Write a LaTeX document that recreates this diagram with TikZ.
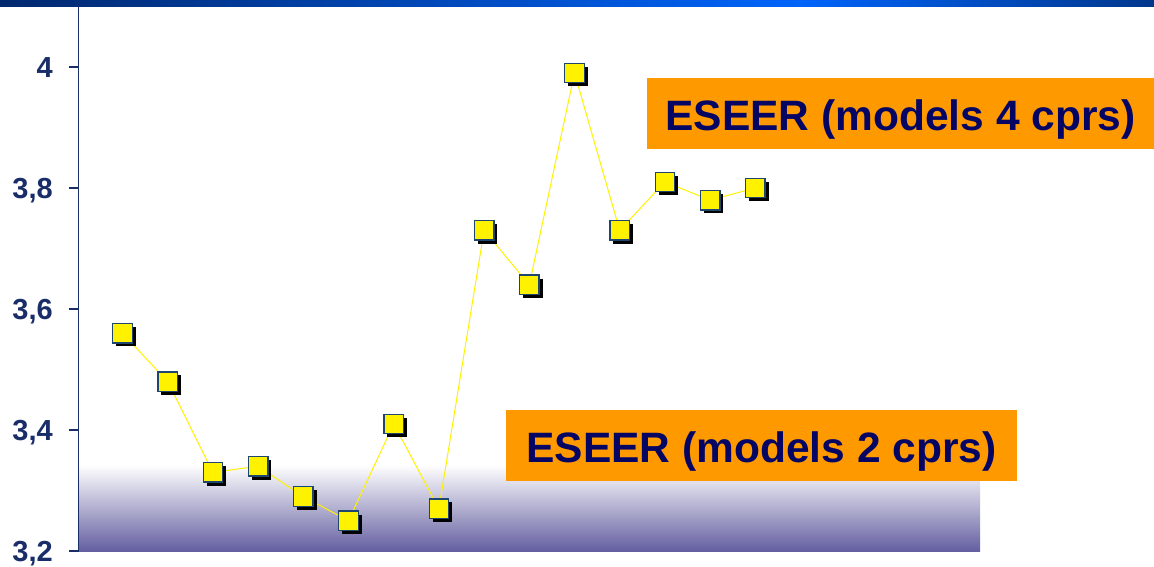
\documentclass[tikz,border=0pt]{standalone}
\usepackage{fontspec}
\setmainfont{Liberation Sans}
\usetikzlibrary{shadows}
\definecolor{navy}{RGB}{25,45,105}
\definecolor{txtnavy}{RGB}{5,5,100}
\definecolor{orangebox}{RGB}{255,153,0}
\definecolor{mkborder}{RGB}{30,70,110}
\definecolor{bandbot}{RGB}{100,95,160}
\definecolor{bandmid}{RGB}{205,205,222}
\definecolor{barA}{RGB}{0,40,110}
\definecolor{barB}{RGB}{0,100,250}
\definecolor{barC}{RGB}{0,55,140}
\pgfdeclarehorizontalshading{topbar}{100bp}{color(0bp)=(barA); color(25bp)=(barA); color(59.7bp)=(barB); color(75bp)=(barC); color(100bp)=(barC)}
\tikzset{
  mk/.style={rectangle, minimum size=19.5pt, inner sep=0pt, fill=yellow, draw=mkborder, line width=1.3pt,
    drop shadow={shadow xshift=3.5pt, shadow yshift=-3.5pt, fill=black, opacity=1}},
  conn/.style={draw=yellow, line width=1pt},
  ylab/.style={anchor=east, inner sep=0pt, text=navy, font=\fontsize{29}{29}\selectfont\bfseries, text height=20.8pt, text depth=0pt},
  tick/.style={draw=navy, line width=1.6pt},
  legendbox/.style={fill=orangebox, inner sep=0pt, minimum height=71pt, text=txtnavy,
    font=\fontsize{42.5}{42.5}\selectfont\bfseries, text height=36pt, text depth=2.5pt}
}
\begin{document}
\begin{tikzpicture}[x=1pt,y=-1pt]
\useasboundingbox (0,0) rectangle (1154,566);
\fill[white] (0,0) rectangle (1154,566);
% top bar
\shade[shading=topbar] (0,0) rectangle (1154,6);
% bottom gradient band
\shade[top color=white, middle color=bandmid, bottom color=bandbot] (79,465) rectangle (980,551);
% axis
\draw[tick] (78.5,6) -- (78.5,551.5);
\foreach \v/\l in {0/{3,2},1/{3,4},2/{3,6},3/{3,8},4/4} {
  \pgfmathsetmacro{\yy}{551-\v*121}
  \draw[tick] (69,\yy) -- (78.5,\yy);
  \node[ylab] (yl\v) at (53,\yy) {\l};
}
% data points
\foreach \i/\v in {1/3.56,2/3.48,3/3.33,4/3.34,5/3.29,6/3.25,7/3.41,8/3.27,9/3.73,10/3.64,11/3.99,12/3.73,13/3.81,14/3.78,15/3.80} {
  \pgfmathsetmacro{\xx}{122.5+(\i-1)*45.2}
  \pgfmathsetmacro{\yy}{551-(\v-3.2)*605}
  \coordinate (p\i) at (\xx,\yy);
}
\foreach \a/\b in {1/2,2/3,3/4,4/5,5/6,6/7,7/8,8/9,9/10,10/11,11/12,12/13,13/14,14/15} {
  \draw[conn] (p\a) -- (p\b);
}
\foreach \i in {1,...,15} {
  \node[mk] (m\i) at (p\i) {};
}
% legend boxes
\node[legendbox, minimum width=511pt] (lab2) at (761.5,445.5) {ESEER (models 2 cprs)};
\node[legendbox, minimum width=507pt] (lab4) at (900.5,113.5) {ESEER (models 4 cprs)};
\end{tikzpicture}
\end{document}
